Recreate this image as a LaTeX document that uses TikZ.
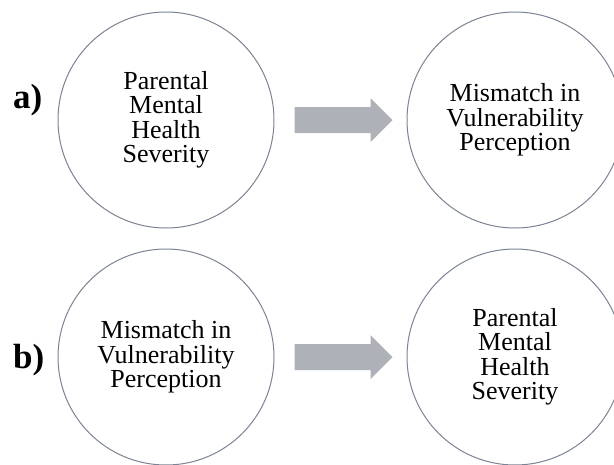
\documentclass[tikz,border=0pt]{standalone}
\usepackage{fontspec}
\setmainfont{Liberation Serif}
\definecolor{ringgray}{HTML}{7C8394}
\definecolor{arrowgray}{HTML}{AEB1B8}
\tikzset{
  ring/.style={circle, draw=ringgray, line width=1pt, minimum size=216pt, inner sep=0pt,
    align=center, font=\fontsize{26}{24.5}\selectfont},
  tag/.style={anchor=base west, inner sep=0pt, font=\fontsize{35}{35}\selectfont\bfseries},
  blockarrow/.pic={\fill[arrowgray] (0,-13) -- (76,-13) -- (76,-22) -- (98,0) -- (76,22) -- (76,13) -- (0,13) -- cycle;}
}
\begin{document}
\begin{tikzpicture}[x=1pt,y=-1pt]
\useasboundingbox (0,0) rectangle (614,464);
\clip (0,0) rectangle (614,464);
\fill[white] (0,0) rectangle (614,464);
\node[ring] (a1) at (166,120) {Parental\\Mental\\Health\\Severity};
\node[ring] (a2) at (515,120) {Mismatch in\\Vulnerability\\Perception};
\node[ring] (b1) at (166,357) {Mismatch in\\Vulnerability\\Perception};
\node[ring] (b2) at (515,357) {Parental\\Mental\\Health\\Severity};
\node[tag] (la) at (13,108) {a)};
\node[tag] (lb) at (13,368) {b)};
\pic at ([xshift=20pt]a1.east) {blockarrow};
\pic at ([xshift=20pt]b1.east) {blockarrow};
\end{tikzpicture}
\end{document}
